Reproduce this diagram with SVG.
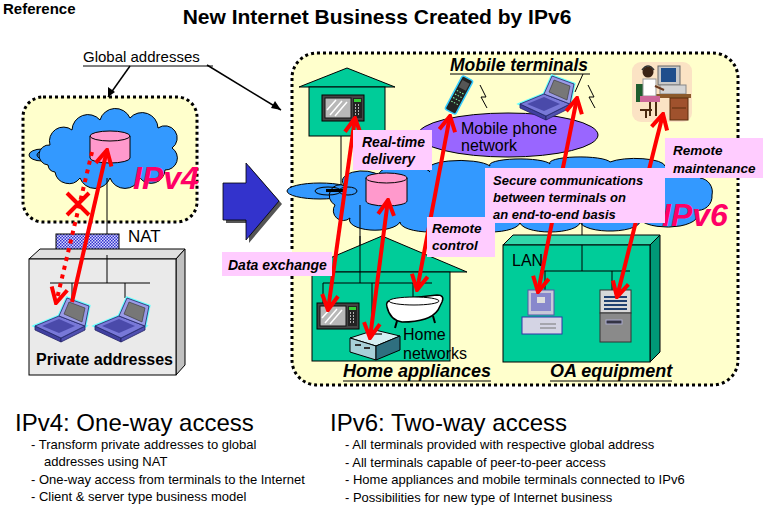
<svg xmlns="http://www.w3.org/2000/svg" width="763" height="509" viewBox="0 0 763 509">
<style>
text{font-family:"Liberation Sans",Arial,sans-serif;fill:#000}
.b{font-weight:bold}
.bi{font-weight:bold;font-style:italic}
.lbl{fill:#FFCCFF}
.red{stroke:#FF0000;stroke-width:4;fill:none}
.teal{fill:#00CC99;stroke:#000;stroke-width:1}
.wire{stroke:#000;stroke-width:1;fill:none}
.dotbox{fill:#FFFFCC;stroke:#000;stroke-width:3;stroke-dasharray:3 3}
.cloud{fill:#3399FF;stroke:#000;stroke-width:1}
.cyl{fill:#FF99CC;stroke:#000;stroke-width:1}
.bul{font-size:13px}
</style>
<defs>
<marker id="ah" viewBox="-18 -10 20 20" refX="0" refY="0" markerWidth="20" markerHeight="20" markerUnits="userSpaceOnUse" orient="auto-start-reverse">
<path d="M-15,-8 L0,0 L-15,8" fill="none" stroke="#FF0000" stroke-width="4"/>
</marker>
<pattern id="hatch" width="3" height="3" patternUnits="userSpaceOnUse">
<rect width="3" height="3" fill="#D8D8FF"/>
<rect width="1.5" height="1.5" fill="#3333CC"/>
<rect x="1.5" y="1.5" width="1.5" height="1.5" fill="#3333CC"/>
</pattern>
<g id="laptop">
<polygon points="0,30 24,20 50,30 26,42" fill="none" stroke="#66FFFF" stroke-width="3"/>
<polygon points="24,20 32,2 54,10 50,30" fill="none" stroke="#66FFFF" stroke-width="3"/>
<polygon points="0,30 26,42 26,46 0,34" fill="#4040A0" stroke="#222266" stroke-width="0.8"/>
<polygon points="26,42 50,30 50,34 26,46" fill="#5050B0" stroke="#222266" stroke-width="0.8"/>
<polygon points="0,30 24,20 50,30 26,42" fill="#7878D8" stroke="#222266" stroke-width="0.8"/>
<polygon points="7,30 24,23 40,30 24,37" fill="#4A4AAA"/>
<polygon points="24,20 32,2 54,10 50,30" fill="#9A9AE6" stroke="#222266" stroke-width="0.8"/>
<polygon points="29,18 34,6 50,12 47,26" fill="#777777" stroke="#333" stroke-width="0.6"/>
</g>
<g id="micro">
<rect x="0" y="0" width="42" height="26" fill="#444" stroke="#000"/>
<rect x="3" y="3" width="26" height="20" fill="#B8B8B8" stroke="#111"/>
<path d="M8,20 L20,6 M13,21 L25,7 M5,15 L14,5" stroke="#FFF" stroke-width="1.5"/>
<rect x="31" y="3" width="9" height="20" fill="#222"/>
<rect x="32" y="4" width="7" height="3" fill="#33CC33"/>
<path d="M33,10 h1 M36,10 h1 M33,13 h1 M36,13 h1 M33,16 h1 M36,16 h1 M33,19 h1 M36,19 h1" stroke="#DDD" stroke-width="1.5"/>
</g>
</defs>
<rect width="763" height="509" fill="#FFFFFF"/>

<g id="titles">
<text x="3" y="14" class="b" font-size="15">Reference</text>
<text x="377" y="24" class="b" font-size="21" text-anchor="middle">New Internet Business Created by IPv6</text>
</g>

<g id="global-label">
<text x="83" y="62" font-size="15">Global addresses</text>
<line x1="83" y1="66" x2="213" y2="66" class="wire"/>
</g>

<g id="ipv4-area">
<rect x="23" y="97" width="174" height="125" rx="20" class="dotbox"/>
<ellipse cx="42" cy="155" rx="13" ry="6" class="cloud"/>
<ellipse cx="44" cy="155" rx="7" ry="4" fill="none" stroke="#000"/>
<ellipse cx="44" cy="155" rx="3" ry="2" fill="none" stroke="#000"/>
<path class="cloud" d="M48,165 A10 10 0 0 1 50,145 A14 14 0 0 1 72,130 A16 16 0 0 1 100,120 A16 16 0 0 1 130,118 A16 16 0 0 1 158,128 A12 12 0 0 1 172,148 A12 12 0 0 1 165,170 A14 14 0 0 1 140,178 A16 16 0 0 1 110,178 A16 16 0 0 1 80,178 A14 14 0 0 1 55,172 A8 8 0 0 1 48,165 Z"/>
<path class="cyl" d="M90,136 L90,158 A20 5 0 0 0 130,158 L130,136 Z"/>
<ellipse cx="110" cy="136" rx="20" ry="5" class="cyl"/>
<text x="133" y="189" class="bi" font-size="32" style="fill:#FF0066">IPv4</text>
</g>

<g id="nat">
<line x1="107" y1="178" x2="107" y2="235" class="wire"/>
<rect x="56" y="234" width="63" height="21" fill="url(#hatch)" stroke="#000"/>
<text x="128" y="242" font-size="17">NAT</text>
</g>

<g id="private-lan">
<polygon points="29,259 40,249 185,249 176,259" fill="#E0E0E0" stroke="#000"/>
<polygon points="176,259 185,249 185,365 176,375" fill="#C0C0C0" stroke="#000"/>
<rect x="29" y="259" width="147" height="116" fill="#EAEAEA" stroke="#000"/>
<path class="wire" d="M107,255 V283 M50,283 H150 M72,283 V300 M125,283 V298"/>
<use href="#laptop" x="35" y="296"/>
<use href="#laptop" x="95" y="296"/>
<text x="36" y="365" class="b" font-size="16">Private addresses</text>
</g>

<g id="big-arrow">
<polygon points="226,186 249,186 249,166 282,204 249,243 249,223 226,223" fill="#555"/>
<polygon points="223,183 246,183 246,163 279,201 246,240 246,220 223,220" fill="#3333CC" stroke="#000" stroke-width="0.8"/>
</g>

<g id="ipv6-area">
<rect x="292" y="53" width="446" height="332" rx="25" class="dotbox"/>
</g>

<g id="house1">
<polygon points="299,87 347,68 395,87" class="teal"/>
<rect x="309" y="87" width="76" height="49" class="teal"/>
<use href="#micro" x="322" y="95"/>
</g>

<g id="ipv6-cloud">
<line x1="341" y1="136" x2="341" y2="200" class="wire"/>
<ellipse cx="320" cy="191" rx="33" ry="8" class="cloud"/>
<path class="cloud" d="M335,205 A10 10 0 0 1 345,186 A20 10 0 0 1 380,176 A25 8 0 0 1 430,172 A30 8 0 0 1 490,166 A30 6 0 0 1 550,164 A30 6 0 0 1 610,162 A30 8 0 0 1 665,166 A25 12 0 0 1 700,178 A14 14 0 0 1 712,195 A14 14 0 0 1 695,210 A30 12 0 0 1 640,220 A30 10 0 0 1 580,222 A30 10 0 0 1 520,222 A30 10 0 0 1 460,222 A30 10 0 0 1 400,222 A25 10 0 0 1 350,218 A10 10 0 0 1 335,205 Z"/>
<ellipse cx="328" cy="191" rx="13" ry="4" fill="none" stroke="#000"/>
<ellipse cx="348" cy="191" rx="9" ry="4" fill="none" stroke="#000"/>
<rect x="326" y="189" width="20" height="3" fill="#000"/>
<path class="cyl" d="M366,178 L366,201 A20.5 5 0 0 0 407,201 L407,178 Z"/>
<ellipse cx="386.5" cy="178" rx="20.5" ry="5" class="cyl"/>
<text x="662" y="226" class="bi" font-size="32" style="fill:#FF0066">IPv6</text>
</g>

<g id="mobile-network">
<ellipse cx="508" cy="135" rx="90" ry="22" fill="#9966FF" stroke="#000"/>
<text x="461" y="134" font-size="16">Mobile phone</text>
<text x="461" y="151" font-size="16">network</text>
</g>

<g id="mobile-terminals">
<text x="450" y="71" class="bi" font-size="17.5">Mobile terminals</text>
<line x1="450" y1="74" x2="590" y2="74" class="wire"/>
<line x1="583" y1="74" x2="575" y2="92" class="wire"/>
<path class="wire" d="M480,85 L486,97 L481,97 L487,108"/>
<path class="wire" d="M588,85 L594,97 L589,97 L595,108"/>
<g transform="rotate(28 459 95)">
<rect x="453" y="76" width="12" height="38" rx="2" fill="#222" stroke="#33CCFF" stroke-width="1.5"/>
<rect x="455" y="80" width="8" height="8" fill="#555"/>
<path d="M455,92 h8 M455,96 h8 M455,100 h8 M455,104 h8" stroke="#8FA" stroke-width="1" stroke-dasharray="1.5 1.5"/>
</g>
<use href="#laptop" x="520" y="74"/>
</g>

<g id="operator">
<rect x="632" y="62" width="60" height="60" rx="9" fill="#FBE3C4"/>
<rect x="658" y="66" width="22" height="19" fill="#C8C8C8" stroke="#666"/>
<rect x="661" y="68" width="15" height="14" fill="#1F4E8C"/>
<rect x="660" y="85" width="26" height="9" fill="#D4D4D4" stroke="#888"/>
<rect x="654" y="94" width="37" height="4" fill="#8B5A2B"/>
<rect x="670" y="98" width="18" height="22" fill="#A0522D" stroke="#5A2D0C"/>
<line x1="672" y1="108" x2="686" y2="108" stroke="#5A2D0C"/>
<rect x="636" y="84" width="7" height="18" fill="#1E5E2E"/>
<circle cx="648" cy="72" r="5.5" fill="#3B2314"/>
<path d="M642,70 Q648,62 654,70" fill="none" stroke="#333" stroke-width="1.5"/>
<rect x="643" y="79" width="13" height="17" fill="#FFF" stroke="#999"/>
<line x1="655" y1="86" x2="664" y2="90" stroke="#6B3A1F" stroke-width="2"/>
<rect x="640" y="96" width="20" height="6" fill="#CC6699"/>
<path d="M656,102 V116 M650,102 V116 M640,110 H652 M646,110 V118" stroke="#4A2A10" stroke-width="2" fill="none"/>
</g>

<g id="house2">
<line x1="360" y1="205" x2="360" y2="283" class="wire"/>
<polygon points="297,272 382,236 467,272" class="teal"/>
<rect x="312" y="272" width="138" height="89" class="teal"/>
<line x1="360" y1="236" x2="360" y2="283" class="wire"/>
<path class="wire" d="M323,283 H432 M323,283 V303 M372,283 V332 M413,283 V298"/>
<use href="#micro" x="317" y="303"/>
<g id="bathtub">
<path d="M387,307 Q385,301 392,300 L437,295 Q445,295 442,302 L438,310 Q430,322 402,322 Q390,320 387,307 Z" fill="#FFF" stroke="#000" stroke-width="1.5"/>
<ellipse cx="414" cy="301" rx="25" ry="4" fill="#FFF" stroke="#000"/>
<path d="M397,321 L395,328 M433,316 L435,323" stroke="#000" stroke-width="2"/>
</g>
<g id="router">
<polygon points="350,338 375,330 400,336 376,346" fill="#D6EEF2" stroke="#000"/>
<polygon points="350,338 376,346 376,360 350,352" fill="#A8D0D8" stroke="#000"/>
<polygon points="376,346 400,336 400,350 376,360" fill="#2F6F7F" stroke="#000"/>
<path d="M355,345 h6 M364,348 h6" stroke="#333" stroke-width="2"/>
<path d="M372,334 h10" stroke="#333" stroke-width="1.5"/>
</g>
<text x="403" y="340" font-size="16">Home</text>
<text x="403" y="359" font-size="16">networks</text>
<text x="343" y="377" class="bi" font-size="18">Home appliances</text>
<line x1="343" y1="381" x2="491" y2="381" class="wire"/>
</g>

<g id="oa-building">
<line x1="582" y1="218" x2="582" y2="245" class="wire"/>
<polygon points="503,245 513,235 660,235 650,245" fill="#33D6AA" stroke="#000"/>
<polygon points="650,245 660,235 660,352 650,362" fill="#009977" stroke="#000"/>
<rect x="503" y="245" width="147" height="117" fill="#00CC99" stroke="#000"/>
<path class="wire" d="M582,245 V271 M540,271 H630 M545,271 V290 M612,271 V292"/>
<text x="512" y="266" font-size="16">LAN</text>
<g id="pc">
<rect x="528" y="290" width="26" height="25" fill="#C8C8D8" stroke="#5555AA"/>
<rect x="531" y="293" width="20" height="18" fill="#8888CC"/>
<rect x="537" y="297" width="8" height="6" fill="#DDD"/>
<rect x="522" y="317" width="40" height="17" fill="#D4D4E4" stroke="#3333AA"/>
<path d="M540,324 h16 M540,328 h16" stroke="#777"/>
</g>
<g id="server">
<rect x="600" y="290" width="31" height="23" fill="#D8D8D8" stroke="#333"/>
<path d="M604,297 h23 M604,301 h23 M604,305 h23 M604,309 h23" stroke="#1F3F6F" stroke-width="2"/>
<rect x="600" y="313" width="31" height="29" fill="#8A8A8A" stroke="#333"/>
<rect x="606" y="320" width="16" height="4" fill="#334" stroke="#AAC"/>
</g>
<text x="550" y="377" class="bi" font-size="18">OA equipment</text>
<line x1="550" y1="381" x2="672" y2="381" class="wire"/>
</g>

<g id="connectors">
<line x1="72" y1="302" x2="107" y2="150" class="red" marker-end="url(#ah)"/>
<line x1="92" y1="152" x2="56" y2="303" class="red" stroke-dasharray="4 5" marker-end="url(#ah)"/>
<path d="M67,193 L89,215 M89,193 L67,215" class="red"/>
<line x1="328" y1="310" x2="355" y2="118" class="red" marker-start="url(#ah)" marker-end="url(#ah)"/>
<line x1="370" y1="338" x2="388" y2="200" class="red" marker-start="url(#ah)" marker-end="url(#ah)"/>
<line x1="417" y1="290" x2="450" y2="116" class="red" marker-start="url(#ah)" marker-end="url(#ah)"/>
<line x1="538" y1="292" x2="577" y2="98" class="red" marker-start="url(#ah)" marker-end="url(#ah)"/>
<line x1="617" y1="297" x2="663" y2="114" class="red" marker-start="url(#ah)" marker-end="url(#ah)"/>
<line x1="130" y1="66" x2="108" y2="97" stroke="#000" stroke-width="1.5"/>
<polygon points="108,97 108,87 115,92" fill="#000"/>
<line x1="207" y1="65" x2="281" y2="110" stroke="#000" stroke-width="1.5"/>
<polygon points="281,110 271,108 275,101" fill="#000"/>
</g>

<g id="labels">
<rect x="353" y="130" width="79" height="40" class="lbl"/>
<text x="362" y="147" class="bi" font-size="14">Real-time</text>
<text x="362" y="164" class="bi" font-size="14">delivery</text>
<rect x="222" y="252" width="110" height="24" class="lbl"/>
<text x="228" y="270" class="bi" font-size="14">Data exchange</text>
<rect x="427" y="217" width="68" height="40" class="lbl"/>
<text x="432" y="233" class="bi" font-size="13.5">Remote</text>
<text x="432" y="250" class="bi" font-size="13.5">control</text>
<rect x="485" y="168" width="180" height="55" class="lbl"/>
<text x="493" y="185" class="bi" font-size="13">Secure communications</text>
<text x="493" y="202" class="bi" font-size="13">between terminals on</text>
<text x="493" y="219" class="bi" font-size="13">an end-to-end basis</text>
<rect x="665" y="138" width="98" height="40" class="lbl"/>
<text x="673" y="155" class="bi" font-size="13.5">Remote</text>
<text x="673" y="173" class="bi" font-size="13.5">maintenance</text>
</g>

<g id="notes">
<text x="15" y="431" font-size="24">IPv4: One-way access</text>
<text x="31" y="449" class="bul">- Transform private addresses to global</text>
<text x="44" y="466" class="bul">addresses using NAT</text>
<text x="31" y="484" class="bul">- One-way access from terminals to the Internet</text>
<text x="31" y="501" class="bul">- Client &amp; server type business model</text>
<text x="330" y="431" font-size="24">IPv6: Two-way access</text>
<text x="345" y="449" class="bul">- All terminals provided with respective global address</text>
<text x="345" y="467" class="bul">- All terminals capable of peer-to-peer access</text>
<text x="345" y="484" class="bul">- Home appliances and mobile terminals connected to IPv6</text>
<text x="345" y="502" class="bul">- Possibilities for new type of Internet business</text>
</g>
</svg>
